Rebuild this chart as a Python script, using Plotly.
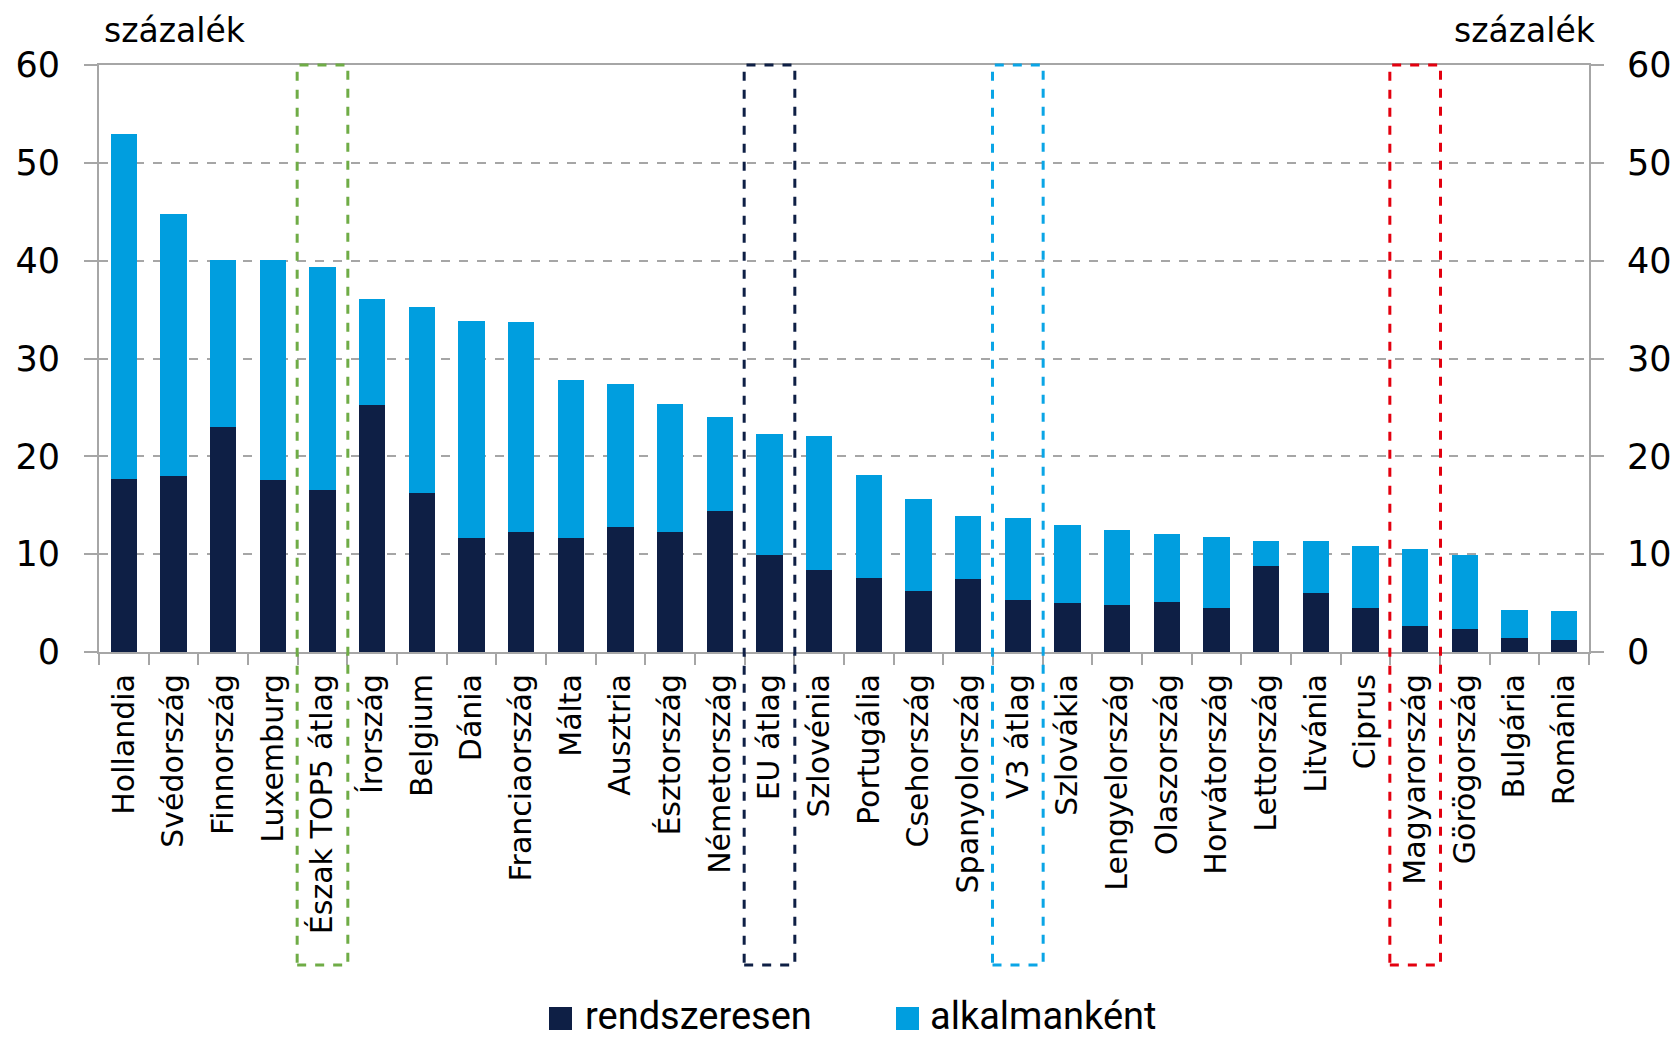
import plotly.graph_objects as go

categories = ["Hollandia", "Svédország", "Finnország", "Luxemburg", "Észak TOP5 átlag",
              "Írország", "Belgium", "Dánia", "Franciaország", "Málta", "Ausztria",
              "Észtország", "Németország", "EU átlag", "Szlovénia", "Portugália",
              "Csehország", "Spanyolország", "V3 átlag", "Szlovákia", "Lengyelország",
              "Olaszország", "Horvátország", "Lettország", "Litvánia", "Ciprus",
              "Magyarország", "Görögország", "Bulgária", "Románia"]

totals = [52.9, 44.8, 40.1, 40.1, 39.4, 36.1, 35.3, 33.8, 33.7, 27.8, 27.4, 25.4,
          24.0, 22.3, 22.1, 18.1, 15.6, 13.9, 13.7, 13.0, 12.5, 12.1, 11.8, 11.3,
          11.3, 10.8, 10.5, 9.9, 4.3, 4.2]
rendszeresen = [17.7, 18.0, 23.0, 17.6, 16.6, 25.2, 16.3, 11.7, 12.3, 11.7, 12.8, 12.3,
                14.4, 9.95, 8.4, 7.6, 6.2, 7.5, 5.3, 5.0, 4.8, 5.1, 4.5, 8.75,
                6.0, 4.5, 2.7, 2.4, 1.4, 1.25]
alkalmankent = [round(t - r, 2) for t, r in zip(totals, rendszeresen)]

series_names = ["rendszeresen", "alkalmanként"]
y_ticks = [0, 10, 20, 30, 40, 50, 60]
unit_label = "százalék"

highlights = [("Észak TOP5 átlag", "#6FAC46"), ("EU átlag", "#0E1F45"),
              ("V3 átlag", "#0AA5E6"), ("Magyarország", "#E3000F")]

DARK = "#0E1F45"
LIGHT = "#009EDF"
GRID = "#A6A6A6"
FONT = "DejaVu Sans"

W, H = 1676, 1037
L, R, T, B = 99, 87, 65, 385
PW, PH = W - L - R, H - T - B


def px_x(px):
    return (px - L) / PW


def px_y(py):
    return (H - B - py) / PH


fig = go.Figure()
fig.add_trace(go.Bar(x=categories, y=rendszeresen, name=series_names[0],
                     marker=dict(color=DARK, line=dict(width=0)), showlegend=False))
fig.add_trace(go.Bar(x=categories, y=alkalmankent, name=series_names[1],
                     marker=dict(color=LIGHT, line=dict(width=0)), showlegend=False))

shapes = []
for name, col in highlights:
    i = categories.index(name)
    shapes.append(dict(type="rect", xref="x", yref="paper",
                       x0=i - 0.51, x1=i + 0.51, y0=px_y(965), y1=1.0,
                       line=dict(color=col, width=3, dash="dash"),
                       fillcolor="rgba(0,0,0,0)", layer="above"))

# legend (manual)
leg_items = [(series_names[0], DARK, 549, 583), (series_names[1], LIGHT, 896, 928)]
annotations = []
for label, col, sx, tx in leg_items:
    shapes.append(dict(type="rect", xref="paper", yref="paper",
                       x0=px_x(sx), x1=px_x(sx + 23), y0=px_y(1030), y1=px_y(1007),
                       line=dict(width=0), fillcolor=col))
    annotations.append(dict(text=label, xref="paper", yref="paper", x=px_x(tx),
                            y=px_y(1016), xanchor="left", yanchor="middle",
                            showarrow=False,
                            font=dict(family="Roboto", size=38, color="#000000")))

annotations.append(dict(text=unit_label, xref="paper", yref="paper", x=px_x(102),
                        y=px_y(30), xanchor="left", yanchor="middle", showarrow=False,
                        font=dict(family=FONT, size=33, color="#000000")))
annotations.append(dict(text=unit_label, xref="paper", yref="paper", x=px_x(1598),
                        y=px_y(30), xanchor="right", yanchor="middle", showarrow=False,
                        font=dict(family=FONT, size=33, color="#000000")))

fig.update_layout(
    width=W, height=H,
    margin=dict(l=L, r=R, t=T, b=B, pad=0, autoexpand=False),
    paper_bgcolor="white", plot_bgcolor="white",
    barmode="stack", bargap=0.47,
    showlegend=False,
    shapes=shapes, annotations=annotations,
    font=dict(family=FONT, color="#000000"),
    xaxis=dict(type="category", showline=True, linecolor=GRID, linewidth=2,
               mirror=True, ticks="outside", tickson="boundaries", ticklen=11,
               tickcolor=GRID, tickwidth=2, tickangle=-90, showgrid=False,
               automargin=False,
               tickfont=dict(family=FONT, size=30, color="#000000"),
               ticklabelstandoff=8, range=[-0.5, len(categories) - 0.5]),
    yaxis=dict(range=[0, 60], tickvals=y_ticks, showline=True, linecolor=GRID,
               linewidth=2, ticks="outside", ticklen=13, tickcolor=GRID, tickwidth=2,
               showgrid=True, gridcolor=GRID, griddash="dash", gridwidth=1.5,
               zeroline=False, automargin=False,
               tickfont=dict(family=FONT, size=35, color="#000000"),
               ticklabelstandoff=17),
    yaxis2=dict(range=[0, 60], tickvals=y_ticks, overlaying="y", side="right",
                showline=True, linecolor=GRID, linewidth=2, ticks="outside",
                ticklen=13, tickcolor=GRID, tickwidth=2, showgrid=False,
                zeroline=False, automargin=False,
                tickfont=dict(family=FONT, size=35, color="#000000"),
                ticklabelstandoff=16),
)

# invisible trace to anchor the right axis
fig.add_trace(go.Scatter(x=[categories[0]], y=[0], yaxis="y2", mode="markers",
                         marker=dict(opacity=0), hoverinfo="skip", showlegend=False))

fig.write_html("out.html", config={"displayModeBar": False},
               post_script="document.body.style.margin='0';document.body.style.overflow='hidden';")
